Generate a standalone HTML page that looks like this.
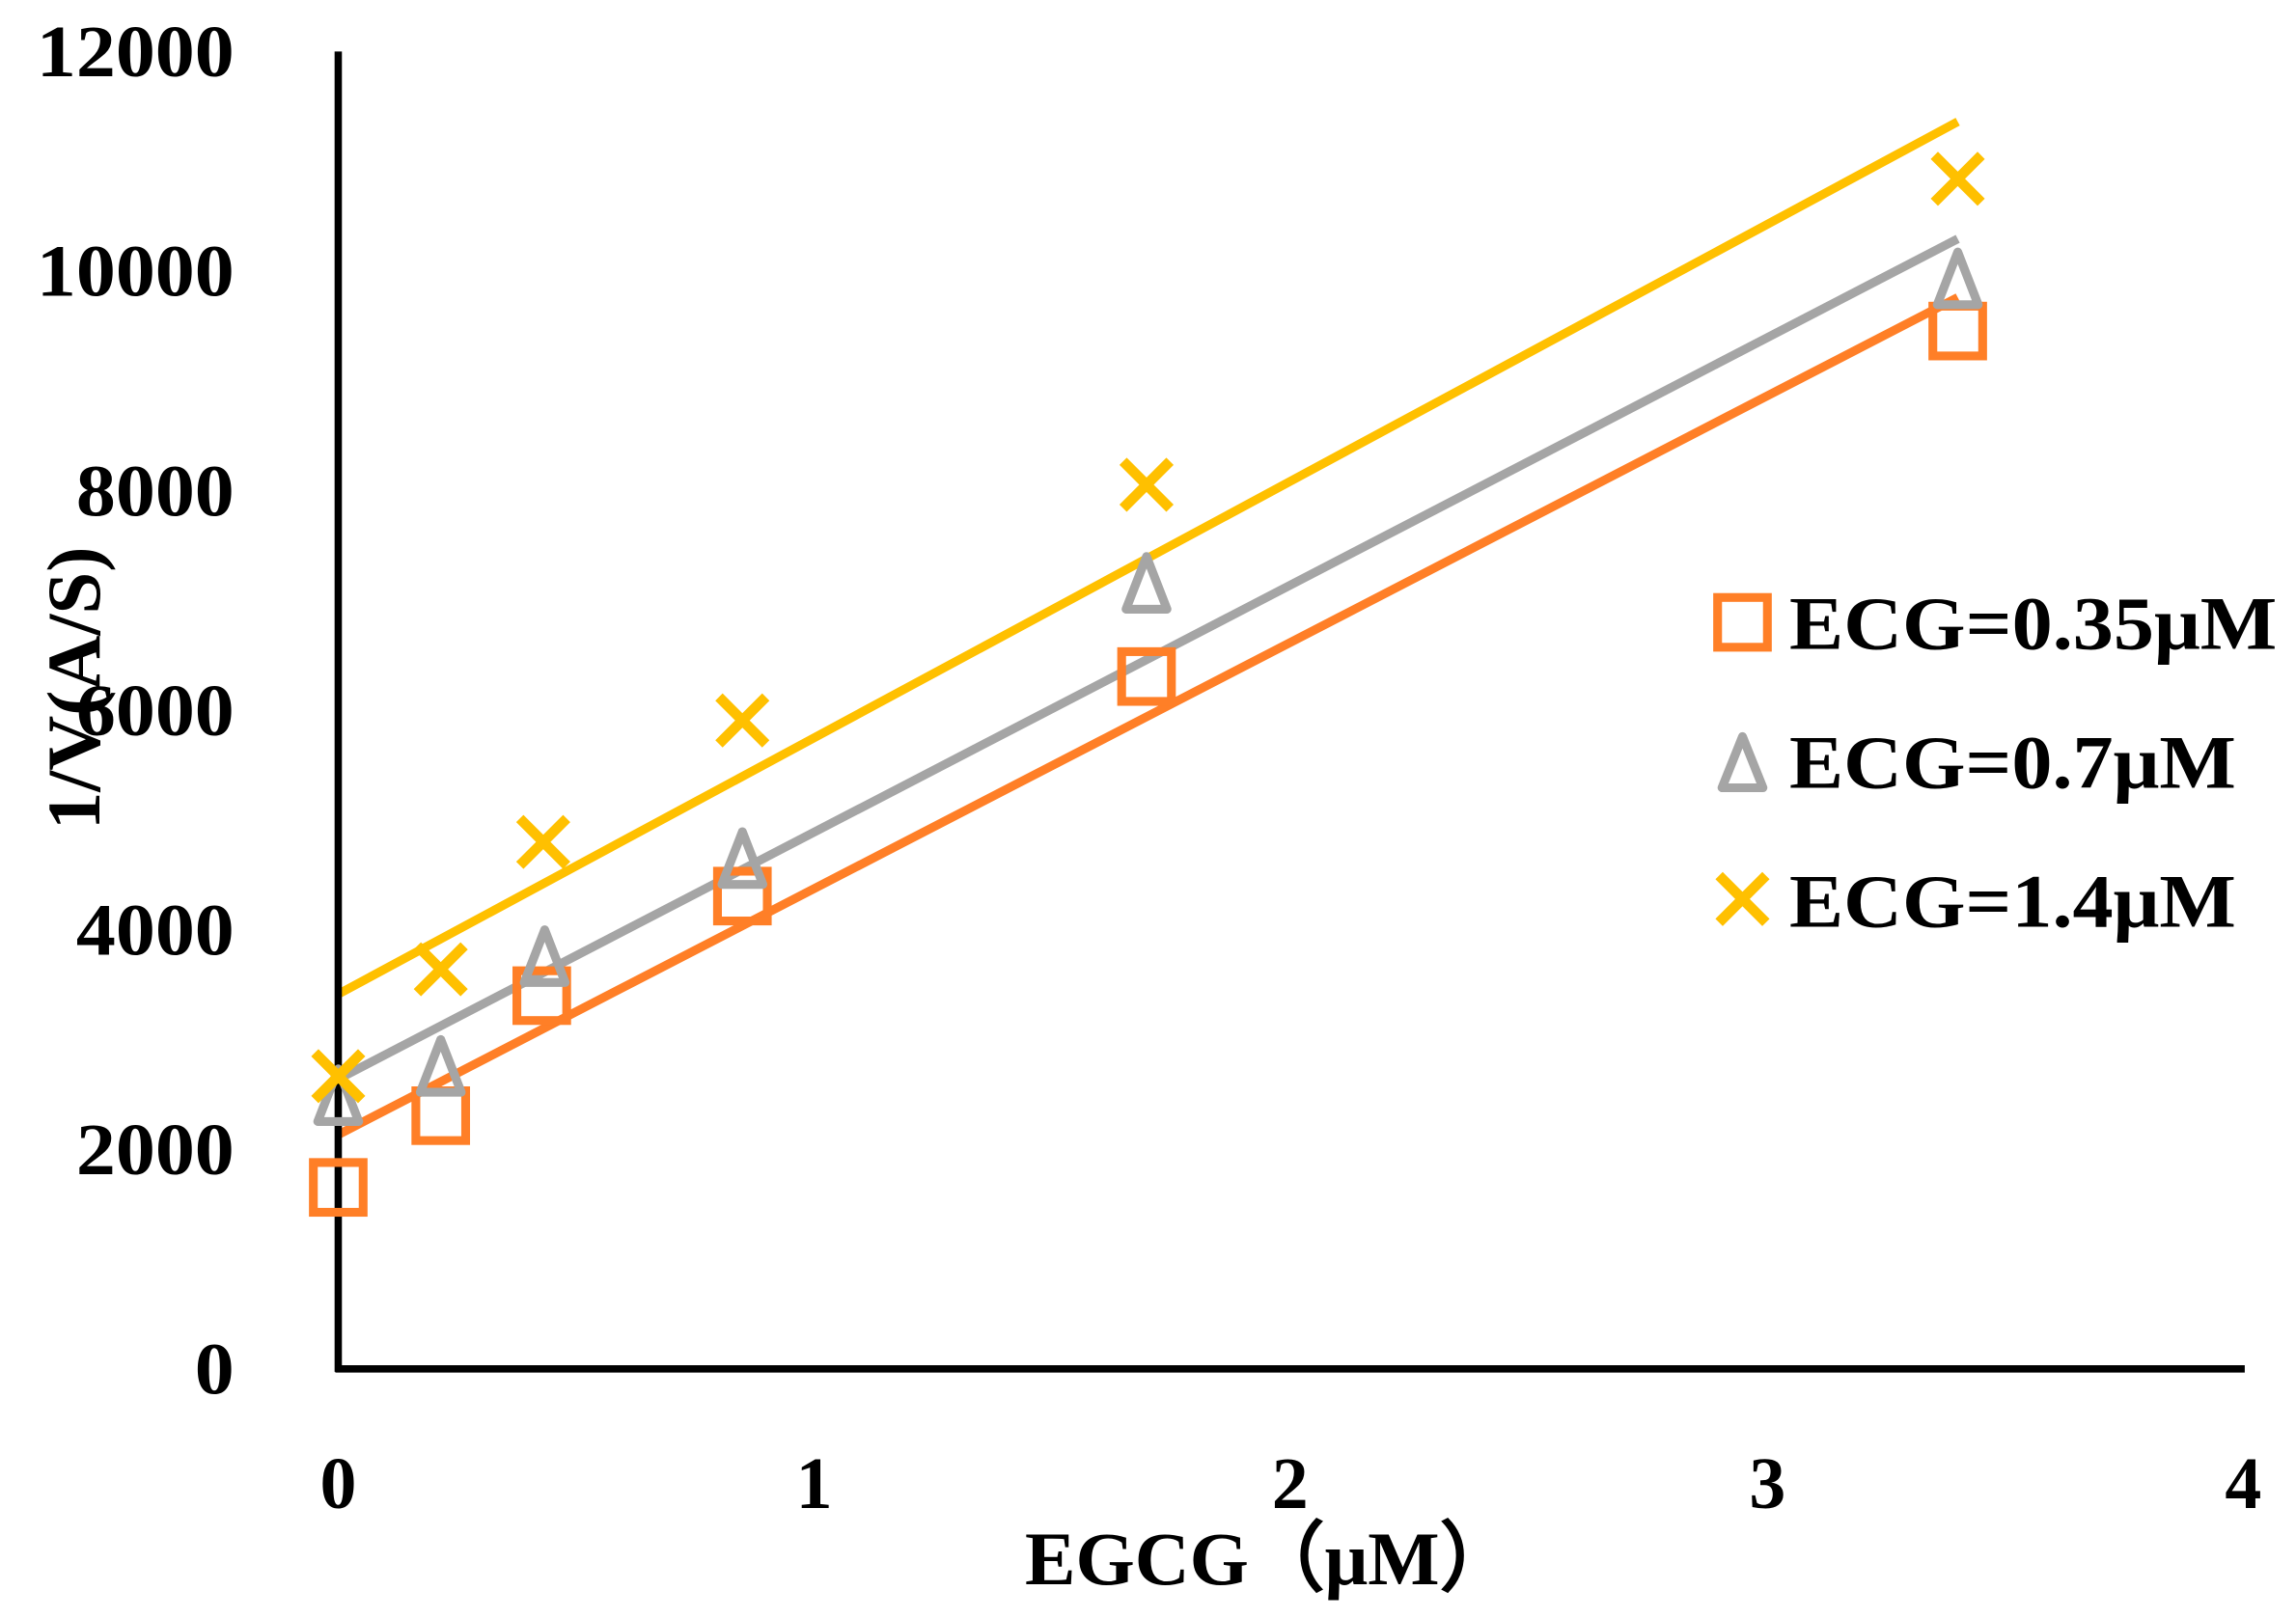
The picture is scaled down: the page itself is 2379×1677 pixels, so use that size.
<!DOCTYPE html>
<html><head><meta charset="utf-8"><style>html,body{margin:0;padding:0;background:#fff}svg{display:block}</style></head>
<body>
<svg width="2379" height="1677" viewBox="0 0 1568 1105" xmlns="http://www.w3.org/2000/svg" font-family="'Liberation Serif', serif" font-weight="bold">
<rect width="1568" height="1105" fill="#fff"/>
<line x1="231" y1="775" x2="1337" y2="203" stroke="#FF7F27" stroke-width="6"/>
<line x1="231" y1="737" x2="1337" y2="163" stroke="#A5A5A5" stroke-width="6"/>
<line x1="231" y1="679" x2="1337" y2="83" stroke="#FFC000" stroke-width="6"/>
<line x1="231" y1="35" x2="231" y2="937" stroke="#000" stroke-width="5"/>
<line x1="229" y1="935" x2="1533" y2="935" stroke="#000" stroke-width="5"/>
<g fill="none" stroke="#FF7F27" stroke-width="6">
<rect x="214" y="794" width="34" height="34"/>
<rect x="284" y="745" width="34" height="34"/>
<rect x="353" y="663" width="34" height="34"/>
<rect x="490" y="595" width="34" height="34"/>
<rect x="766" y="445" width="34" height="34"/>
<rect x="1320" y="209" width="34" height="34"/>
</g>
<g fill="none" stroke="#A5A5A5" stroke-width="6" stroke-linejoin="round">
<polygon points="231,730 217,766 245,766"/>
<polygon points="301,710 287,746 315,746"/>
<polygon points="372,635 358,671 386,671"/>
<polygon points="507,568 493,604 521,604"/>
<polygon points="783,380 769,416 797,416"/>
<polygon points="1337,172 1323,208 1351,208"/>
</g>
<g stroke="#FFC000" stroke-width="7">
<path d="M215,719 L247,751 M247,719 L215,751"/>
<path d="M285,646 L317,678 M317,646 L285,678"/>
<path d="M355,559 L387,591 M387,559 L355,591"/>
<path d="M491,476 L523,508 M523,476 L491,508"/>
<path d="M767,315 L799,347 M799,315 L767,347"/>
<path d="M1321,106 L1353,138 M1353,106 L1321,138"/>
</g>
<g font-size="50" fill="#000" lengthAdjust="spacingAndGlyphs">
<text x="25" y="52" textLength="135" lengthAdjust="spacingAndGlyphs">12000</text>
<text x="25" y="202" textLength="135" lengthAdjust="spacingAndGlyphs">10000</text>
<text x="52" y="352" textLength="108" lengthAdjust="spacingAndGlyphs">8000</text>
<text x="52" y="502" textLength="108" lengthAdjust="spacingAndGlyphs">6000</text>
<text x="52" y="652" textLength="108" lengthAdjust="spacingAndGlyphs">4000</text>
<text x="52" y="802" textLength="108" lengthAdjust="spacingAndGlyphs">2000</text>
<text x="133" y="952" textLength="27" lengthAdjust="spacingAndGlyphs">0</text>
</g>
<g font-size="50" text-anchor="middle" fill="#000">
<text x="231" y="1030">0</text>
<text x="556" y="1030">1</text>
<text x="881" y="1030">2</text>
<text x="1207" y="1030">3</text>
<text x="1532" y="1030">4</text>
</g>
<text x="700" y="1082" font-size="52" fill="#000" textLength="335" lengthAdjust="spacingAndGlyphs">EGCG（μM）</text>
<text transform="translate(68,470) rotate(-90)" font-size="52" text-anchor="middle" fill="#000">1/V(A/S)</text>
<rect x="1173" y="408" width="34" height="34" fill="none" stroke="#FF7F27" stroke-width="6"/>
<polygon points="1190,503 1176,538 1204,538" fill="none" stroke="#A5A5A5" stroke-width="6" stroke-linejoin="round"/>
<path d="M1174,598 L1206,630 M1206,598 L1174,630" stroke="#FFC000" stroke-width="7"/>
<g font-size="52" fill="#000">
<text x="1222" y="443" textLength="333" lengthAdjust="spacingAndGlyphs">ECG=0.35μM</text>
<text x="1222" y="538" textLength="305" lengthAdjust="spacingAndGlyphs">ECG=0.7μM</text>
<text x="1222" y="633" textLength="305" lengthAdjust="spacingAndGlyphs">ECG=1.4μM</text>
</g>
</svg>
</body></html>
